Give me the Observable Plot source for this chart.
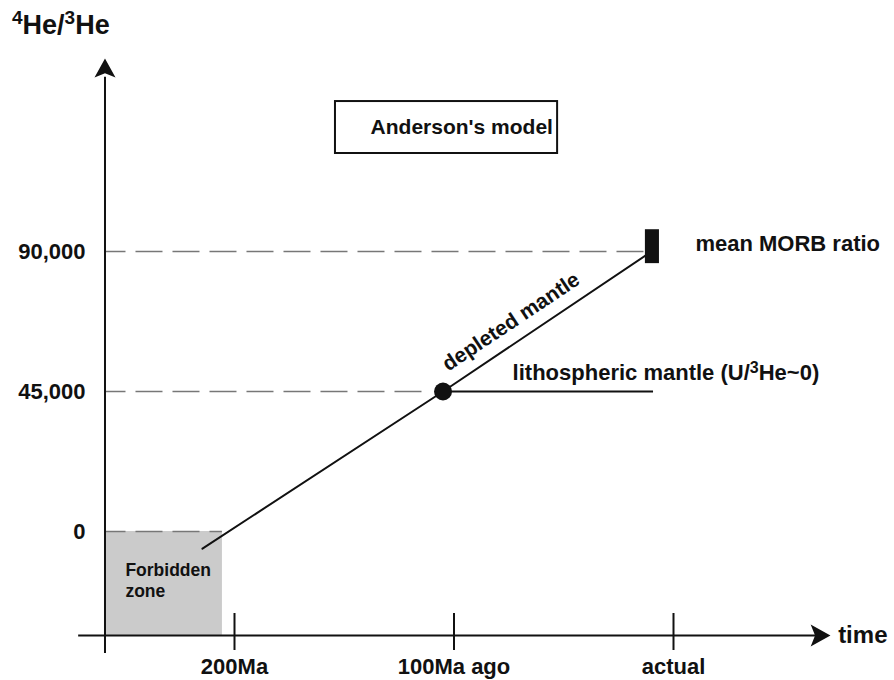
<!DOCTYPE html>
<html>
<head>
<meta charset="utf-8">
<script src="https://cdn.jsdelivr.net/npm/d3@7"></script>
<script src="https://cdn.jsdelivr.net/npm/@observablehq/plot@0.6"></script>
<style>
  body { margin: 0; background: #fff; }
  #wrap { position: relative; width: 894px; height: 680px; }
  #title { position: absolute; left: 12px; top: 10px; font: bold 27px 'Liberation Sans', Arial, sans-serif; color: #111; line-height: 30px; }
  #title .sup { font-size: 19px; position: relative; top: -10px; }
</style>
</head>
<body>
<div id="wrap">
  <div id="title"><span class="sup">4</span>He/<span class="sup">3</span>He</div>
</div>
<script>
// ---- data (time in Ma before present, ratio = 4He/3He) ----
const timeTicks = [200, 100, 0];
const timeLabels = ["200Ma", "100Ma ago", "actual"];
const ratioTicks = [0, 45000, 90000];
const ratioLabels = ["0", "45,000", "90,000"];

// depleted-mantle evolution line
const mantleTime = [214.6, 105, 10];
const mantleRatio = [-5500, 45000, 90000];

// lithospheric mantle point
const lithoTime = [105];
const lithoRatio = [45000];
const lithoEndTime = [9.1];

// mean MORB ratio bar
const morbTime = [12.8, 6.4];
const morbRatio = [86100, 97000];

// dashed guides: ratio level and the time where each stops
const guideRatio = [90000, 45000, 0];
const guideEnd = [12.8, 114.4, 205.5];

// forbidden zone
const forbiddenTime = [259, 205.5];
const forbiddenRatio = [-33400, 0];

// axes extents (data units)
const yAxisTime = 259;
const yAxisRatio = [-39200, 146000];
const yArrowRatio = 148660;
const xAxisRatio = -33400;
const xAxisTime = [271, -66];
const xArrowTime = -66.5;

// annotation anchors
const modelBoxTime = [154, 52.8];
const modelBoxRatio = [121500, 138200];
const modelLabel = "Anderson's model";
const modelLabelAt = [138, 129860];
const morbLabel = "mean MORB ratio";
const morbLabelAt = [-10, 90000];
const lithoLabel = "lithospheric mantle (U/\u00B3He~0)";
const lithoLabelAt = [73.3, 45000];
const depletedLabel = "depleted mantle";
const depletedLabelAt = [74, 59700];
const forbiddenLabel = "Forbidden\nzone";
const forbiddenLabelAt = [249.7, -9500];
const timeLabel = "time";
const timeLabelAt = [-75, -33400];

// ---- build tables ----
const mantle = mantleTime.map((t, i) => ({t, r: mantleRatio[i]}));
const guides = guideRatio.map((r, i) => ({r, end: guideEnd[i]}));
const lithoPts = lithoTime.map((t, i) => ({t, r: lithoRatio[i], end: lithoEndTime[i]}));

const arrowUp = {
  draw(ctx, size) {
    const r = Math.sqrt(size / Math.PI);
    ctx.moveTo(0, -r); ctx.lineTo(r, 0.8 * r); ctx.lineTo(0, 0.4 * r); ctx.lineTo(-r, 0.8 * r); ctx.closePath();
  }
};
const arrowRight = {
  draw(ctx, size) {
    const r = Math.sqrt(size / Math.PI);
    ctx.moveTo(r, 0); ctx.lineTo(-0.8 * r, r); ctx.lineTo(-0.4 * r, 0); ctx.lineTo(-0.8 * r, -r); ctx.closePath();
  }
};

const FONT = "'Liberation Sans', Arial, Helvetica, sans-serif";
const FS = 22;

const chart = Plot.plot({
  width: 894,
  height: 680,
  marginLeft: 105,
  marginBottom: 67,
  marginTop: 0,
  marginRight: 0,
  style: {fontFamily: FONT, fontWeight: "bold", fontSize: FS + "px", background: "white", color: "#111"},
  x: {domain: [200, 0], range: [234, 673]},
  y: {domain: [0, 90000], range: [531, 251]},
  marks: [
    // forbidden zone
    Plot.rect([0], {x1: forbiddenTime[0], x2: forbiddenTime[1], y1: forbiddenRatio[0], y2: forbiddenRatio[1], fill: "#cbcbcb"}),
    // dashed guides
    Plot.ruleY(guides, {y: "r", x1: yAxisTime, x2: "end", stroke: "#777", strokeWidth: 1.4, strokeDasharray: "27,10", strokeDashoffset: 6}),
    // axes lines
    Plot.ruleX([yAxisTime], {y1: yAxisRatio[0], y2: yAxisRatio[1], stroke: "#111", strokeWidth: 2}),
    Plot.ruleY([xAxisRatio], {x1: xAxisTime[0], x2: xAxisTime[1], stroke: "#111", strokeWidth: 2}),
    Plot.dot([0], {x: yAxisTime, y: yArrowRatio, symbol: arrowUp, r: 10.5, fill: "#111", stroke: null}),
    Plot.dot([0], {x: xArrowTime, y: xAxisRatio, symbol: arrowRight, r: 11, fill: "#111", stroke: null}),
    Plot.axisX({ticks: timeTicks, tickFormat: d => timeLabels[timeTicks.indexOf(d)], tickSize: 37, tickPadding: 8, label: null, strokeWidth: 2, fontSize: FS, fontWeight: "bold", fill: "#111"}),
    Plot.axisY({ticks: ratioTicks, tickFormat: d => ratioLabels[ratioTicks.indexOf(d)], tickSize: 0, tickPadding: 20, label: null, fontSize: FS, fontWeight: "bold", fill: "#111"}),
    // depleted mantle line
    Plot.line(mantle, {x: "t", y: "r", stroke: "#111", strokeWidth: 2}),
    // lithospheric mantle
    Plot.ruleY(lithoPts, {y: "r", x1: "t", x2: "end", stroke: "#111", strokeWidth: 2}),
    Plot.dot(lithoPts, {x: "t", y: "r", r: 9, fill: "#111", stroke: null}),
    // MORB bar
    Plot.rect([0], {x1: morbTime[0], x2: morbTime[1], y1: morbRatio[0], y2: morbRatio[1], fill: "#111"}),
    // model box
    Plot.rect([0], {x1: modelBoxTime[0], x2: modelBoxTime[1], y1: modelBoxRatio[0], y2: modelBoxRatio[1], fill: "none", stroke: "#111", strokeWidth: 2}),
    Plot.text([modelLabel], {x: modelLabelAt[0], y: modelLabelAt[1], text: d => d, textAnchor: "start", fontSize: 21, fontWeight: "bold", fill: "#111"}),
    // labels
    Plot.text([morbLabel], {x: morbLabelAt[0], y: morbLabelAt[1], text: d => d, textAnchor: "start", dy: -8, fontSize: FS, fontWeight: "bold", fill: "#111"}),
    Plot.text([lithoLabel], {x: lithoLabelAt[0], y: lithoLabelAt[1], text: d => d, textAnchor: "start", dy: -19, fontSize: FS, fontWeight: "bold", fill: "#111"}),
    Plot.text([depletedLabel], {x: depletedLabelAt[0], y: depletedLabelAt[1], text: d => d, textAnchor: "middle", dy: -24, rotate: -33.7, fontSize: 21, fontWeight: "bold", fill: "#111"}),
    Plot.text([forbiddenLabel], {x: forbiddenLabelAt[0], y: forbiddenLabelAt[1], text: d => d, textAnchor: "start", lineAnchor: "top", lineHeight: 1.2, fontSize: 17.5, fontWeight: "bold", fill: "#111"}),
    Plot.text([timeLabel], {x: timeLabelAt[0], y: timeLabelAt[1], text: d => d, textAnchor: "start", fontSize: 24, fontWeight: "bold", fill: "#111"})
  ]
});
chart.style.position = "absolute";
chart.style.left = "0";
chart.style.top = "0";
document.getElementById("wrap").prepend(chart);

// render the superscript 3 in the lithospheric label as a raised digit
d3.select(chart).selectAll("text").each(function () {
  const el = d3.select(this);
  if (el.selectAll("tspan").size() === 0 && this.textContent === lithoLabel) {
    const [before, after] = lithoLabel.split("\u00B3");
    el.text(null);
    el.append("tspan").text(before);
    el.append("tspan").attr("dy", "-7").attr("font-size", 16).text("3");
    el.append("tspan").attr("dy", "7").text(after);
  }
});
</script>
</body>
</html>
